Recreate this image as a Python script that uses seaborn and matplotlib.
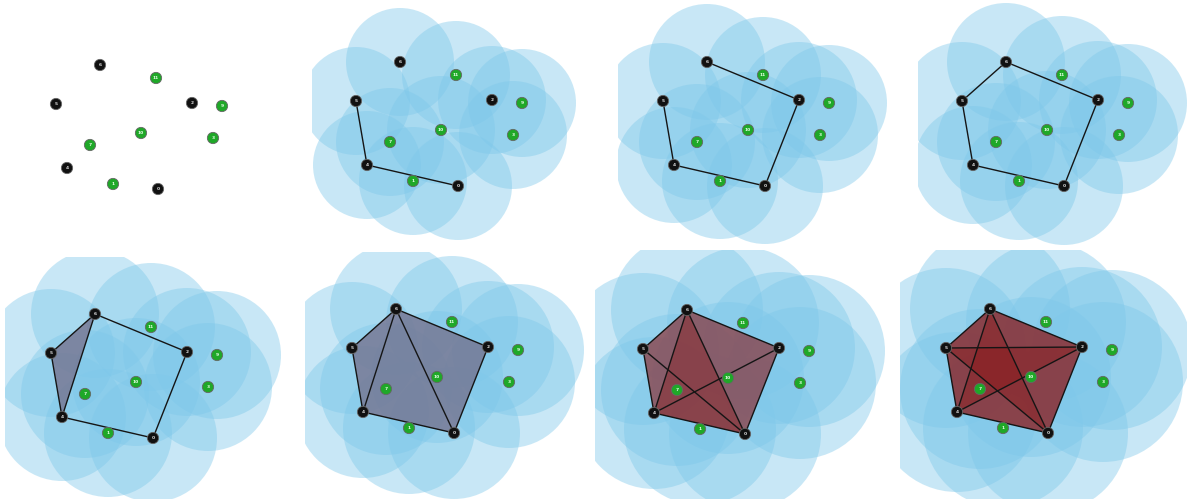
import matplotlib
matplotlib.use("Agg")
from itertools import combinations

import matplotlib.pyplot as plt
import numpy as np
import pandas as pd
import seaborn as sns
from matplotlib.patches import Circle, Polygon

# Point cloud: landmark vertices (black) and witness points (green)
node_ids = ["6", "11", "5", "2", "9", "10", "3", "7", "4", "1", "0"]
node_x = [100, 156, 56, 192, 222, 141, 213, 90, 67, 113, 158]
node_y = [65, 78, 104, 103, 106, 133, 138, 145, 168, 184, 189]
node_kind = ["landmark", "witness", "landmark", "landmark", "witness", "witness",
             "witness", "witness", "landmark", "witness", "landmark"]

# Ball radius at each step of the filtration
radii = [0, 54, 58, 59, 64, 66, 76, 80]

# Edges present at each step of the filtration
edges_step = [
    [],
    [("5", "4"), ("4", "0")],
    [("5", "4"), ("4", "0"), ("0", "2"), ("2", "6")],
    [("5", "4"), ("4", "0"), ("0", "2"), ("2", "6"), ("6", "5")],
    [("5", "4"), ("4", "0"), ("0", "2"), ("2", "6"), ("6", "5"), ("6", "4")],
    [("5", "4"), ("4", "0"), ("0", "2"), ("2", "6"), ("6", "5"), ("6", "4"), ("6", "0")],
    [("5", "4"), ("4", "0"), ("0", "2"), ("2", "6"), ("6", "5"), ("6", "4"), ("6", "0"),
     ("5", "0"), ("4", "2")],
    [("5", "4"), ("4", "0"), ("0", "2"), ("2", "6"), ("6", "5"), ("6", "4"), ("6", "0"),
     ("5", "0"), ("4", "2"), ("5", "2")],
]
fill_style = [None, None, None, None, "gray", "gray", "red", "red"]

df = pd.DataFrame({"id": node_ids, "x": node_x, "y": node_y, "kind": node_kind})
pos = {r.id: (r.x, r.y) for r in df.itertuples()}
landmarks = df.loc[df.kind == "landmark", "id"].tolist()

# Panel frames in figure pixels (left, top, right, bottom) and drawing offsets
W, H = 1192, 499
frames = [(0, 0, 300, 245), (312, 0, 590, 245), (618, 0, 900, 245), (918, 0, 1192, 245),
          (5, 257, 295, 499), (305, 252, 590, 499), (595, 250, 897, 499), (900, 250, 1187, 499)]
offsets = [(0, 0), (300, -3), (607, -3), (906, -3),
           (-5, 249), (296, 244), (587, 245), (890, 244)]

ball_color = "#7ec8ea"
fill_colors = {"gray": ("#736c88", 0.74), "red": ("#8c1414", 0.36)}

sns.set_theme(style="white")
fig = plt.figure(figsize=(W / 100, H / 100), dpi=100)
fig.patch.set_facecolor("white")

for k in range(8):
    L, T, R, B = frames[k]
    ox, oy = offsets[k]
    ax = fig.add_axes([L / W, 1 - B / H, (R - L) / W, (B - T) / H])
    ax.set_axis_off()

    # Balls around every point
    if radii[k] > 0:
        for r in df.itertuples():
            ax.add_patch(Circle((r.x, r.y), radii[k], facecolor=ball_color,
                                edgecolor="none", alpha=0.42, zorder=1))

    # Filled 2-simplices: every triangle whose three edges are present
    edge_set = {frozenset(e) for e in edges_step[k]}
    if fill_style[k] is not None:
        col, a = fill_colors[fill_style[k]]
        for tri in combinations(landmarks, 3):
            if all(frozenset(p) in edge_set for p in combinations(tri, 2)):
                ax.add_patch(Polygon([pos[v] for v in tri], closed=True, facecolor=col,
                                     edgecolor="none", alpha=a, zorder=2))

    # 1-simplices
    for a_id, b_id in edges_step[k]:
        (x0, y0), (x1, y1) = pos[a_id], pos[b_id]
        ax.plot([x0, x1], [y0, y1], color="#151515", lw=1.0, zorder=3)

    sns.scatterplot(data=df, x="x", y="y", hue="kind",
                    palette={"landmark": "#111111", "witness": "#1fa828"},
                    s=66, linewidth=0.6, edgecolor="#666666", legend=False,
                    ax=ax, zorder=5)
    ax.set_xlim(L - ox, R - ox)
    ax.set_ylim(B - oy, T - oy)
    for r in df.itertuples():
        ax.text(r.x, r.y, r.id, fontsize=3.2, ha="center", va="center",
                color="#dddddd" if r.kind == "landmark" else "#e8ffe8",
                fontweight="bold", zorder=6)

fig.savefig("out.png", dpi=100, facecolor="white")
